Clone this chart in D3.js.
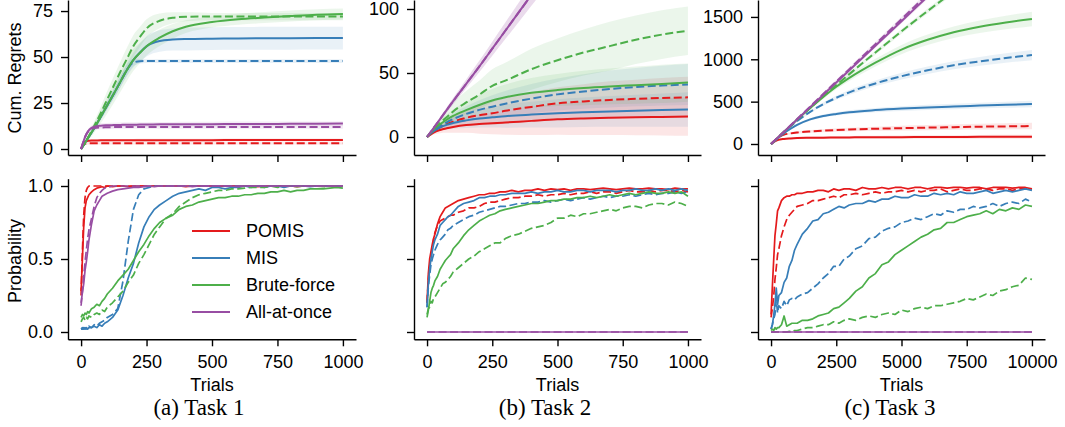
<!DOCTYPE html>
<html><head><meta charset="utf-8">
<script src="https://cdn.jsdelivr.net/npm/d3@7"></script>
<style>body{margin:0;background:#fff}svg{display:block}</style>
</head><body>
<script>
// ---------------- DATA ----------------
const methods = ["POMIS", "MIS", "Brute-force", "All-at-once"];
const colors = ["#e41a1c", "#377eb8", "#4daf4a", "#984ea3"];
const captions = ["(a) Task 1", "(b) Task 2", "(c) Task 3"];
const xTicksA = [0, 250, 500, 750, 1000];
const xTicksC = [0, 2500, 5000, 7500, 10000];
const yTicksT1 = [0, 25, 50, 75];
const yTicksT2 = [0, 50, 100];
const yTicksT3 = [0, 500, 1000, 1500];
const yTicksP = [0, 0.5, 1.0];

// Cumulative regrets (top row)
const t1Grid = [0,10,20,30,40,50,75,100,125,150,175,200,225,250,300,350,400,500,600,700,800,900,1000];
const t1RedS = [0,3.5,4.3,4.5,4.6,4.6,4.7,4.7,4.7,4.7,4.7,4.7,4.8,4.8,4.8,4.8,4.8,4.8,4.9,4.9,4.9,4.9,4.9];
const t1RedD = [0,2.5,3.0,3.1,3.1,3.1,3.1,3.1,3.1,3.1,3.1,3.1,3.1,3.1,3.1,3.1,3.1,3.1,3.1,3.1,3.1,3.1,3.1];
const t1BlueS = [0,2.2,4.5,6.8,9,11.3,17.5,23.8,30,36.5,43,48.5,52.5,55.8,58.7,59.5,59.8,60,60.1,60.2,60.2,60.3,60.3];
const t1BlueD = [0,2.2,4.5,6.8,9,11.3,17.5,23.8,30,36.5,43,47,47.7,47.8,47.8,47.8,47.8,47.8,47.8,47.8,47.8,47.8,47.8];
const t1GreenS = [0,2.2,4.5,6.8,9,11.3,17.5,23.8,30,36.5,43,48.5,52.3,55.8,60.5,64,66.5,69,70.5,71.5,72.3,73,73.4];
const t1GreenD = [0,2.3,4.7,7.2,9.8,12.5,19.5,27,34.5,42,49,56,61,65.5,69.7,71.3,71.9,72,72,72,72,72,72];
const t1PurS = [0,4.5,8,10.3,11.5,12.1,12.7,12.9,13.0,13.1,13.2,13.2,13.3,13.3,13.4,13.4,13.5,13.5,13.6,13.6,13.7,13.7,13.8];
const t1PurD = [0,4.5,8,10,11,11.4,11.7,11.8,11.9,11.9,12,12,12,12,12,12,12,12,12,12,12,12,12];
const t1RedSsd = [0,0.6,0.8,0.8,0.8,0.8,0.8,0.8,0.8,0.8,0.8,0.8,0.8,0.8,0.8,0.8,0.8,0.8,0.8,0.8,0.8,0.8,0.8];
const t1RedDsd = [0,0.5,0.6,0.6,0.6,0.6,0.6,0.6,0.6,0.6,0.6,0.6,0.6,0.6,0.6,0.6,0.6,0.6,0.6,0.6,0.6,0.6,0.6];
const t1BlueSsd = [0,0.5,0.8,1,1.2,1.4,1.8,2.2,2.6,3,3.5,4,5,5.5,5.8,6,6.2,6.2,6.2,6.2,6.2,6.2,6.2];
const t1BlueDsd = [0,0.5,0.8,1,1.2,1.4,1.8,2.2,2.6,3,3,2,1.2,1,1,1,1,1,1,1,1,1,1];
const t1GreenSsd = [0,0.6,1,1.5,2,2.5,3.5,4.5,5,5.5,6,6,5.5,5,4.5,4,3.5,3,3,3,3,3,3];
const t1GreenDsd = [0,0.6,1,1.5,2,2.5,3.5,4.5,5,5.5,6,6,5.5,5,4,3,2.5,2,2,2,2,2,2];
const t1PurSsd = [0,1,1.2,1.3,1.3,1.3,1.3,1.3,1.3,1.3,1.3,1.3,1.3,1.3,1.3,1.3,1.3,1.3,1.3,1.3,1.3,1.3,1.3];
const t1PurDsd = [0,0.8,1,1,1,1,1,1,1,1,1,1,1,1,1,1,1,1,1,1,1,1,1];

const t2Grid = [0,25,50,75,100,150,200,250,300,400,500,600,700,800,900,1000];
const t2RedS = [0,3.5,5.5,6.8,7.8,9.3,10.1,10.7,11.3,12.6,13.8,14.5,15,15.4,15.7,16];
const t2RedD = [0,4.5,7.5,10,12,15,17,18.5,20.5,23.5,26.3,27.8,29,29.8,30.5,31];
const t2BlueS = [0,4.5,7.5,9.5,11,13,14.5,15.4,16.3,17.5,18.5,19.3,20,20.5,21,21.5];
const t2BlueD = [0,5,8.5,11.5,14,18,21.2,23.7,26,30,33.3,35.5,37.5,39,40.2,41];
const t2GreenS = [0,6,10,13.5,16.5,21,25,28.5,31,34.5,36.7,38.3,39.5,40.5,41.5,42.5];
const t2GreenD = [0,6,11,15.5,20,27,33,40,44,53,60,66,71,76,80,83];
const t2PurS = [0,7,14,21,28,41.5,55,69,83,111,139,166,194,222,249,277];
const t2PurD = [0,7,14,21,28,41.5,55,69,83,111,139,166,194,222,249,277];
const t2RedSsd = [0,1.5,2.5,3.5,4.5,6,7.5,8.5,9.5,11,12,13,13.5,14,14.5,15];
const t2RedDsd = [0,1.5,2.5,3.5,4.5,6,7.5,9,10,11.5,12.5,13.5,14.5,15,15.5,16];
const t2BlueSsd = [0,1.5,2.5,3.5,4.5,6,7,8,9,10,11,11.5,12,12.5,13,13.5];
const t2BlueDsd = [0,1.5,2.5,3.5,4.5,6,7.5,9,10,11.5,12.5,13.5,14.5,15,15.5,16];
const t2GreenSsd = [0,1.5,3,4,5,6.5,8,9,10,11.5,12.5,13.5,14,14.5,15,15];
const t2GreenDsd = [0,2,4,6,7,9,11,13,14,16,17,18,19,19,19,19];
const t2PurSsd = [0,1,1.5,2,2.5,3.5,4.5,5.5,6.5,8.5,10,12,14,16,18,20];
const t2PurDsd = [0,1,1.5,2,2.5,3.5,4.5,5.5,6.5,8.5,10,12,14,16,18,20];

const t3Grid = [0,250,500,750,1000,1500,2000,2500,3000,4000,5000,6000,7000,8000,9000,10000];
const t3RedS = [0,45,60,66,70,73,75,77,78,80,81,82,83,84,85,86];
const t3RedD = [0,70,110,125,135,148,157,165,171,180,187,193,199,204,208,212];
const t3BlueS = [0,68,128,180,225,290,330,355,375,400,418,432,443,453,463,472];
const t3BlueD = [0,72,143,210,272,380,470,545,610,715,800,870,930,975,1015,1050];
const t3GreenS = [0,72,145,217,288,425,555,675,780,960,1115,1230,1320,1385,1435,1476];
const t3GreenD = [0,72,144,215,285,425,562,695,825,1080,1330,1570,1800,2020,2230,2430];
const t3PurS = [0,72.5,145,217,290,435,580,725,870,1160,1450,1740,2030,2320,2610,2900];
const t3PurD = [0,73.5,147,221,295,442,590,737,884,1179,1474,1768,2063,2358,2652,2947];
const t3RedSsd = [0,5,8,10,12,14,15,16,17,18,19,20,21,22,23,24];
const t3RedDsd = [0,5,10,12,14,16,18,20,22,25,28,30,32,34,36,38];
const t3BlueSsd = [0,5,8,10,12,15,18,20,22,25,28,30,32,34,36,38];
const t3BlueDsd = [0,5,8,10,12,16,20,24,28,34,40,44,48,52,56,60];
const t3GreenSsd = [0,5,8,10,12,18,24,30,36,45,55,62,68,74,80,85];
const t3GreenDsd = [0,5,8,10,12,15,18,20,22,25,28,30,32,34,36,38];
const t3PurSsd = [0,5,8,10,12,15,18,20,22,25,28,30,32,34,36,38];
const t3PurDsd = [0,5,8,10,12,15,18,20,22,25,28,30,32,34,36,38];

// Probability of optimal arm (bottom row)
const gridA = [0,5,10,15,20,25,30,40,50,60,70,80,90,100,120,140,160,180,200,220,240,260,280,300,325,350,375,400,425,450,475,500,525,550,575,600,625,650,675,700,725,750,775,800,825,850,875,900,925,950,975,1000];
const gridC = [0,50,100,150,200,250,300,400,500,600,700,800,900,1000,1200,1400,1600,1800,2000,2200,2400,2600,2800,3000,3250,3500,3750,4000,4250,4500,4750,5000,5250,5500,5750,6000,6250,6500,6750,7000,7250,7500,7750,8000,8250,8500,8750,9000,9250,9500,9750,10000];
const flatT = [0, 1000];
const flatTC = [0, 10000];
const flatZero = [0, 0];

const p1RedS = [0.28,0.50,0.72,0.85,0.90,0.92,0.94,0.96,0.975,0.985,0.99,0.995,0.99,
  1.0,0.995,1.0,1.0,0.995,1.0,1.0,1.0,0.995,1.0,1.0,1.0,1.0,
  1.0,0.995,1.0,1.0,1.0,1.0,0.995,1.0,1.0,1.0,1.0,1.0,0.995,
  1.0,1.0,1.0,1.0,1.0,0.995,1.0,1.0,1.0,1.0,1.0,1.0,1.0];
const p1RedD = [0.25,0.55,0.80,0.92,0.97,0.99,1.0,1.0,1.0,1.0,1.0,1.0,1.0,
  1.0,1.0,1.0,1.0,1.0,1.0,1.0,1.0,1.0,1.0,1.0,1.0,1.0,
  1.0,1.0,1.0,1.0,1.0,1.0,1.0,1.0,1.0,1.0,1.0,1.0,1.0,
  1.0,1.0,1.0,1.0,1.0,1.0,1.0,1.0,1.0,1.0,1.0,1.0,1.0];
const p1BlueS = [0.02,0.02,0.03,0.02,0.03,0.02,0.03,0.03,0.04,0.03,0.05,0.04,0.06,
  0.07,0.10,0.15,0.25,0.37,0.47,0.61,0.72,0.79,0.84,0.87,0.90,0.93,
  0.95,0.96,0.97,0.98,0.97,0.99,0.99,0.98,0.99,0.99,1.0,0.99,1.0,
  0.99,1.0,1.0,0.99,1.0,1.0,1.0,0.995,1.0,1.0,1.0,1.0,1.0];
const p1BlueD = [0.02,0.03,0.02,0.03,0.02,0.03,0.04,0.03,0.05,0.04,0.06,0.07,0.08,
  0.10,0.12,0.16,0.35,0.62,0.84,0.94,0.98,0.99,1.0,1.0,1.0,1.0,
  1.0,1.0,1.0,1.0,1.0,1.0,1.0,1.0,1.0,1.0,1.0,1.0,1.0,
  1.0,1.0,1.0,1.0,1.0,1.0,1.0,1.0,1.0,1.0,1.0,1.0,1.0];
const p1GreenS = [0.10,0.12,0.11,0.13,0.12,0.14,0.13,0.16,0.17,0.19,0.18,0.21,0.23,
  0.26,0.30,0.35,0.39,0.43,0.49,0.55,0.60,0.66,0.71,0.75,0.78,0.80,
  0.84,0.86,0.87,0.89,0.90,0.91,0.92,0.92,0.93,0.93,0.94,0.94,0.95,
  0.95,0.96,0.96,0.97,0.96,0.97,0.97,0.98,0.98,0.98,0.985,0.99,0.985];
const p1GreenD = [0.07,0.09,0.10,0.08,0.10,0.09,0.11,0.10,0.12,0.13,0.12,0.15,0.14,
  0.17,0.20,0.24,0.28,0.34,0.39,0.47,0.53,0.60,0.67,0.72,0.78,0.81,
  0.86,0.89,0.92,0.94,0.95,0.96,0.97,0.97,0.98,0.98,0.985,0.99,0.99,
  0.99,1.0,0.99,1.0,1.0,0.995,1.0,1.0,1.0,0.995,1.0,1.0,1.0];
const p1PurS = [0.20,0.27,0.33,0.42,0.48,0.55,0.63,0.74,0.83,0.87,0.90,0.93,0.94,
  0.95,0.965,0.975,0.98,0.985,0.99,0.99,0.995,1.0,0.995,1.0,1.0,1.0,
  1.0,1.0,0.995,1.0,1.0,1.0,1.0,1.0,1.0,0.995,1.0,1.0,1.0,
  1.0,1.0,1.0,1.0,1.0,1.0,1.0,1.0,1.0,1.0,1.0,1.0,1.0];
const p1PurD = [0.18,0.28,0.38,0.48,0.56,0.64,0.70,0.78,0.86,0.92,0.95,0.97,0.985,
  0.99,1.0,1.0,1.0,1.0,1.0,1.0,1.0,1.0,1.0,1.0,1.0,1.0,
  1.0,1.0,1.0,1.0,1.0,1.0,1.0,1.0,1.0,1.0,1.0,1.0,1.0,
  1.0,1.0,1.0,1.0,1.0,1.0,1.0,1.0,1.0,1.0,1.0,1.0,1.0];

const p2RedS = [0.20,0.40,0.50,0.55,0.60,0.64,0.67,0.74,0.79,0.82,0.85,0.86,0.87,
  0.88,0.90,0.91,0.92,0.93,0.94,0.94,0.95,0.95,0.96,0.96,0.97,0.96,
  0.97,0.97,0.98,0.97,0.98,0.975,0.98,0.97,0.98,0.98,0.975,0.98,0.985,
  0.98,0.975,0.98,0.985,0.98,0.98,0.985,0.98,0.98,0.975,0.985,0.98,0.98];
const p2RedD = [0.20,0.36,0.45,0.52,0.57,0.63,0.68,0.73,0.76,0.77,0.78,0.79,0.80,
  0.80,0.82,0.83,0.85,0.85,0.86,0.88,0.89,0.89,0.90,0.91,0.92,0.92,
  0.93,0.93,0.94,0.93,0.94,0.94,0.95,0.94,0.95,0.95,0.96,0.95,0.96,
  0.96,0.95,0.96,0.97,0.96,0.96,0.97,0.96,0.97,0.97,0.96,0.97,0.96];
const p2BlueS = [0.17,0.33,0.43,0.50,0.55,0.60,0.63,0.67,0.73,0.75,0.77,0.79,0.80,
  0.82,0.86,0.88,0.89,0.90,0.92,0.92,0.93,0.93,0.94,0.94,0.95,0.95,
  0.95,0.96,0.95,0.96,0.96,0.97,0.96,0.96,0.97,0.97,0.96,0.97,0.97,
  0.97,0.96,0.97,0.97,0.98,0.97,0.97,0.98,0.97,0.98,0.97,0.98,0.97];
const p2BlueD = [0.17,0.31,0.39,0.46,0.50,0.53,0.56,0.60,0.63,0.65,0.67,0.70,0.71,
  0.73,0.75,0.77,0.79,0.80,0.82,0.83,0.84,0.85,0.86,0.86,0.87,0.88,
  0.88,0.89,0.89,0.90,0.89,0.90,0.91,0.90,0.91,0.92,0.91,0.92,0.93,
  0.92,0.93,0.93,0.94,0.93,0.94,0.95,0.94,0.95,0.95,0.96,0.95,0.96];
const p2GreenS = [0.10,0.15,0.21,0.27,0.30,0.32,0.35,0.38,0.43,0.46,0.49,0.51,0.53,
  0.57,0.61,0.66,0.70,0.73,0.76,0.78,0.80,0.81,0.83,0.84,0.85,0.86,
  0.87,0.88,0.88,0.89,0.90,0.90,0.91,0.91,0.92,0.92,0.93,0.92,0.93,
  0.94,0.93,0.94,0.95,0.94,0.95,0.96,0.95,0.95,0.96,0.95,0.96,0.93];
const p2GreenD = [0.12,0.16,0.17,0.21,0.20,0.23,0.24,0.27,0.30,0.33,0.34,0.36,0.38,
  0.41,0.44,0.47,0.50,0.52,0.55,0.57,0.59,0.61,0.61,0.64,0.66,0.67,
  0.69,0.71,0.72,0.73,0.75,0.78,0.78,0.80,0.79,0.81,0.81,0.82,0.83,
  0.84,0.83,0.85,0.86,0.86,0.85,0.87,0.88,0.88,0.87,0.89,0.88,0.86];

const p3RedS = [0.12,0.31,0.49,0.66,0.74,0.83,0.85,0.90,0.92,0.93,0.93,0.94,0.94,
  0.95,0.95,0.96,0.96,0.97,0.97,0.96,0.98,0.97,0.98,0.98,0.97,0.99,
  0.98,0.98,0.99,0.98,0.99,0.99,0.98,0.99,0.99,0.98,0.99,0.99,0.985,
  0.99,0.99,0.985,0.99,0.99,0.98,0.99,0.99,0.99,0.985,0.99,0.99,0.98];
const p3RedD = [0.10,0.16,0.24,0.36,0.44,0.53,0.57,0.66,0.72,0.77,0.80,0.82,0.84,
  0.86,0.87,0.88,0.90,0.90,0.91,0.92,0.93,0.92,0.94,0.94,0.95,0.94,
  0.95,0.96,0.95,0.96,0.96,0.97,0.96,0.97,0.96,0.97,0.97,0.98,0.96,
  0.97,0.98,0.97,0.97,0.98,0.98,0.97,0.98,0.98,0.97,0.98,0.98,0.98];
const p3BlueS = [0.02,0.05,0.11,0.19,0.30,0.19,0.25,0.27,0.34,0.37,0.45,0.49,0.56,
  0.60,0.67,0.71,0.76,0.77,0.81,0.82,0.84,0.86,0.85,0.87,0.88,0.88,
  0.90,0.89,0.91,0.91,0.93,0.92,0.92,0.94,0.93,0.93,0.95,0.94,0.95,
  0.94,0.96,0.95,0.95,0.96,0.97,0.95,0.96,0.97,0.96,0.97,0.98,0.97];
const p3BlueD = [0.02,0.05,0.09,0.12,0.22,0.13,0.18,0.16,0.21,0.18,0.22,0.23,0.22,
  0.24,0.26,0.27,0.30,0.33,0.37,0.40,0.45,0.45,0.50,0.52,0.57,0.59,
  0.64,0.65,0.69,0.71,0.72,0.75,0.76,0.78,0.77,0.79,0.81,0.80,0.83,
  0.82,0.84,0.84,0.86,0.85,0.86,0.88,0.86,0.88,0.89,0.88,0.91,0.89];
const p3GreenS = [0.01,0.02,0.01,0.03,0.02,0.03,0.03,0.05,0.11,0.04,0.05,0.06,0.06,
  0.06,0.08,0.08,0.09,0.11,0.12,0.13,0.16,0.17,0.20,0.23,0.28,0.31,
  0.37,0.40,0.46,0.48,0.53,0.56,0.59,0.62,0.65,0.67,0.70,0.71,0.75,
  0.75,0.77,0.79,0.80,0.81,0.83,0.81,0.84,0.83,0.85,0.84,0.87,0.86];
const p3GreenD = [0.0,0.0,0.0,0.0,0.0,0.0,0.0,0.0,0.0,0.0,0.005,0.0,0.01,
  0.01,0.02,0.03,0.03,0.04,0.05,0.05,0.07,0.06,0.08,0.09,0.08,0.10,
  0.11,0.10,0.12,0.13,0.12,0.15,0.14,0.16,0.17,0.16,0.18,0.18,0.19,
  0.20,0.21,0.23,0.22,0.24,0.26,0.25,0.28,0.29,0.31,0.32,0.37,0.36];

// ---------------- LAYOUT ----------------
const W = 1065, H = 427;
const SANS = "'Liberation Sans', Arial, Helvetica, sans-serif";
const SERIF = "'Liberation Serif', 'Times New Roman', serif";
const FS = 18;

const svg = d3.select("body").append("svg").attr("width", W).attr("height", H)
  .style("font-family", SANS);

const cols = [
  { xr: [68, 356], xdom: [-50, 1050], xt: xTicksA, capX: 199 },
  { xr: [414, 701], xdom: [-50, 1050], xt: xTicksA, capX: 545 },
  { xr: [758, 1045], xdom: [-500, 10500], xt: xTicksC, capX: 890 }
];
const topRow = { yr: [155, 0] };
const botRow = { yr: [339.3, 178.7], ydom: [-0.05, 1.05] };

const topPanels = [
  { ydom: [-3.26, 81], yt: yTicksT1, grid: t1Grid,
    series: [[t1RedS, t1RedSsd, 0, false], [t1RedD, t1RedDsd, 0, true],
             [t1BlueS, t1BlueSsd, 1, false], [t1BlueD, t1BlueDsd, 1, true],
             [t1GreenS, t1GreenSsd, 2, false], [t1GreenD, t1GreenDsd, 2, true],
             [t1PurS, t1PurSsd, 3, false], [t1PurD, t1PurDsd, 3, true]] },
  { ydom: [-14.06, 107.03], yt: yTicksT2, grid: t2Grid,
    series: [[t2RedS, t2RedSsd, 0, false], [t2RedD, t2RedDsd, 0, true],
             [t2BlueS, t2BlueSsd, 1, false], [t2BlueD, t2BlueDsd, 1, true],
             [t2GreenS, t2GreenSsd, 2, false], [t2GreenD, t2GreenDsd, 2, true],
             [t2PurS, t2PurSsd, 3, false], [t2PurD, t2PurDsd, 3, true]] },
  { ydom: [-130, 1700], yt: yTicksT3, grid: t3Grid,
    series: [[t3RedS, t3RedSsd, 0, false], [t3RedD, t3RedDsd, 0, true],
             [t3BlueS, t3BlueSsd, 1, false], [t3BlueD, t3BlueDsd, 1, true],
             [t3GreenS, t3GreenSsd, 2, false], [t3GreenD, t3GreenDsd, 2, true],
             [t3PurS, t3PurSsd, 3, false], [t3PurD, t3PurDsd, 3, true]] }
];

const botPanels = [
  { series: [[gridA, p1RedS, 0, false], [gridA, p1RedD, 0, true],
             [gridA, p1BlueS, 1, false], [gridA, p1BlueD, 1, true],
             [gridA, p1GreenS, 2, false], [gridA, p1GreenD, 2, true],
             [gridA, p1PurS, 3, false], [gridA, p1PurD, 3, true]] },
  { series: [[gridA, p2RedS, 0, false], [gridA, p2RedD, 0, true],
             [gridA, p2BlueS, 1, false], [gridA, p2BlueD, 1, true],
             [gridA, p2GreenS, 2, false], [gridA, p2GreenD, 2, true],
             [flatT, flatZero, 3, false], [flatT, flatZero, 3, true]] },
  { series: [[gridC, p3RedS, 0, false], [gridC, p3RedD, 0, true],
             [gridC, p3BlueS, 1, false], [gridC, p3BlueD, 1, true],
             [gridC, p3GreenS, 2, false], [gridC, p3GreenD, 2, true],
             [flatTC, flatZero, 3, false], [flatTC, flatZero, 3, true]] }
];

const DASH = "8,3.5";
let clipId = 0;

function styleAxis(g) {
  g.selectAll(".domain").attr("stroke", "#000").attr("stroke-width", 1.4);
  g.selectAll(".tick line").attr("stroke", "#000").attr("stroke-width", 1.4);
  g.selectAll(".tick text").attr("font-size", FS).attr("font-family", SANS).attr("fill", "#000");
}

function makeClip(xr, yr) {
  const id = "clip" + (clipId++);
  svg.append("clipPath").attr("id", id).append("rect")
    .attr("x", xr[0]).attr("y", yr[1]).attr("width", xr[1] - xr[0]).attr("height", yr[0] - yr[1]);
  return "url(#" + id + ")";
}

// Top row
topPanels.forEach((p, k) => {
  const c = cols[k];
  const x = d3.scaleLinear().domain(c.xdom).range(c.xr);
  const y = d3.scaleLinear().domain(p.ydom).range(topRow.yr);
  const g = svg.append("g").attr("clip-path", makeClip(c.xr, topRow.yr));
  const area = d3.area().curve(d3.curveMonotoneX)
    .x(d => x(d.t)).y0(d => y(d.m - d.s)).y1(d => y(d.m + d.s));
  const line = d3.line().curve(d3.curveMonotoneX).x(d => x(d.t)).y(d => y(d.m));
  p.series.forEach(([m, s, ci]) => {
    const data = p.grid.map((t, i) => ({ t, m: m[i], s: s[i] }));
    g.append("path").datum(data).attr("d", area).attr("fill", colors[ci]).attr("fill-opacity", 0.11);
  });
  p.series.forEach(([m, s, ci, dashed]) => {
    const data = p.grid.map((t, i) => ({ t, m: m[i], s: s[i] }));
    g.append("path").datum(data).attr("d", line).attr("fill", "none")
      .attr("stroke", colors[ci]).attr("stroke-width", 2)
      .attr("stroke-dasharray", dashed ? DASH : null);
  });
  const ax = svg.append("g").attr("transform", `translate(0,${topRow.yr[0]})`)
    .call(d3.axisBottom(x).tickValues(c.xt).tickSize(7).tickSizeOuter(0).tickFormat(""));
  styleAxis(ax);
  const ay = svg.append("g").attr("transform", `translate(${c.xr[0]},0)`)
    .call(d3.axisLeft(y).tickValues(p.yt).tickSize(7).tickPadding(8).tickSizeOuter(0).tickFormat(d3.format("d")));
  styleAxis(ay);
});

// Bottom row
botPanels.forEach((p, k) => {
  const c = cols[k];
  const x = d3.scaleLinear().domain(c.xdom).range(c.xr);
  const y = d3.scaleLinear().domain(botRow.ydom).range(botRow.yr);
  const g = svg.append("g").attr("clip-path", makeClip(c.xr, botRow.yr));
  const line = d3.line().x(d => x(d.t)).y(d => y(d.v));
  p.series.forEach(([tt, v, ci, dashed]) => {
    const data = tt.map((t, i) => ({ t, v: v[i] }));
    g.append("path").datum(data).attr("d", line).attr("fill", "none")
      .attr("stroke", colors[ci]).attr("stroke-width", 1.7)
      .attr("stroke-linejoin", "round")
      .attr("stroke-dasharray", dashed ? DASH : null);
  });
  const ax = svg.append("g").attr("transform", `translate(0,${botRow.yr[0]})`)
    .call(d3.axisBottom(x).tickValues(c.xt).tickSize(7).tickPadding(8.5).tickSizeOuter(0).tickFormat(d3.format("d")));
  styleAxis(ax);
  const ay = svg.append("g").attr("transform", `translate(${c.xr[0]},0)`)
    .call(d3.axisLeft(y).tickValues(yTicksP).tickSize(7).tickPadding(8).tickSizeOuter(0)
      .tickFormat(k === 0 ? d3.format(".1f") : ""));
  styleAxis(ay);
  svg.append("text").attr("x", (x(c.xt[0]) + x(c.xt[c.xt.length - 1])) / 2).attr("y", 391)
    .attr("text-anchor", "middle").attr("font-size", FS).attr("fill", "#000").text("Trials");
  svg.append("text").attr("x", c.capX).attr("y", 415).attr("text-anchor", "middle")
    .attr("font-family", SERIF).attr("font-size", 23).attr("fill", "#000").text(captions[k]);
});

// y labels
svg.append("text").attr("transform", "translate(15,78) rotate(-90)")
  .attr("text-anchor", "middle").attr("dominant-baseline", "central")
  .attr("font-size", FS).attr("fill", "#000").text("Cum. Regrets");
svg.append("text").attr("transform", "translate(15,261) rotate(-90)")
  .attr("text-anchor", "middle").attr("dominant-baseline", "central")
  .attr("font-size", FS).attr("fill", "#000").text("Probability");

// legend
const legY = [231, 258, 285, 312];
methods.forEach((m, i) => {
  svg.append("line").attr("x1", 192).attr("x2", 230).attr("y1", legY[i]).attr("y2", legY[i])
    .attr("stroke", colors[i]).attr("stroke-width", 2);
  svg.append("text").attr("x", 246).attr("y", legY[i]).attr("dominant-baseline", "central")
    .attr("font-size", FS).attr("fill", "#000").text(m);
});
</script>
</body></html>
